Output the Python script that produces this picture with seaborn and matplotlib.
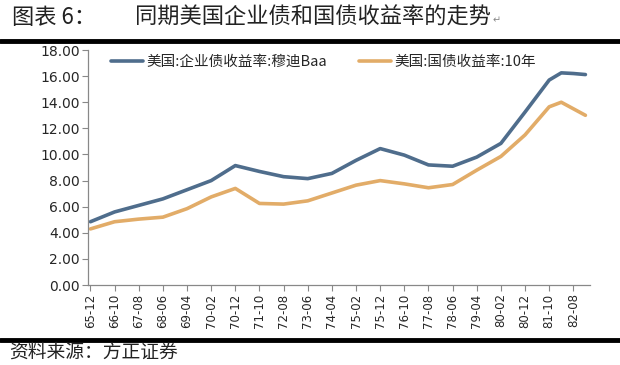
import matplotlib
matplotlib.use("Agg")
import matplotlib.pyplot as plt
import pandas as pd
import seaborn as sns

# Months counted from 1965-12; tick labels every 10 months.
months = [0, 10, 20, 30, 40, 50, 60, 70, 80, 90, 100, 110, 120, 130,
          140, 150, 160, 170, 180, 190, 195, 200, 205]
baa_yield = [4.85, 5.6, 6.1, 6.6, 7.3, 8.0, 9.15, 8.7, 8.3, 8.15, 8.55,
             9.55, 10.45, 9.95, 9.2, 9.1, 9.8, 10.85, 13.25, 15.7, 16.25,
             16.2, 16.12]
treasury_10y = [4.3, 4.85, 5.05, 5.2, 5.85, 6.75, 7.4, 6.25, 6.2, 6.45,
                7.05, 7.65, 8.0, 7.75, 7.45, 7.7, 8.8, 9.85, 11.5, 13.65,
                14.0, 13.5, 13.0]
tick_labels = ["65-12", "66-10", "67-08", "68-06", "69-04", "70-02", "70-12",
               "71-10", "72-08", "73-06", "74-04", "75-02", "75-12", "76-10",
               "77-08", "78-06", "79-04", "80-02", "80-12", "81-10", "82-08"]
series_names = ["美国:企业债收益率:穆迪Baa", "美国:国债收益率:10年"]

df = pd.DataFrame({"month": months,
                   series_names[0]: baa_yield,
                   series_names[1]: treasury_10y})
long_df = df.melt(id_vars="month", var_name="series", value_name="yield")

sns.set_style("white")
plt.rcParams["font.family"] = ["Noto Sans CJK SC", "DejaVu Sans"]

fig = plt.figure(figsize=(6.2, 3.65), dpi=100)
ax = fig.add_axes([0.142, 0.219, 0.81, 0.644])

sns.lineplot(data=long_df, x="month", y="yield", hue="series",
             palette=["#4f6d8c", "#e2ac68"], linewidth=2.6, ax=ax)

ax.set_xlim(-1, 207)
ax.set_ylim(0, 18)
ax.set_yticks(range(0, 19, 2))
ax.set_yticklabels([f"{v:.2f}" for v in range(0, 19, 2)], fontsize=10,
                   family="DejaVu Sans")
ax.set_xticks(range(0, 201, 10))
ax.set_xticklabels(tick_labels, rotation=90, fontsize=8.5,
                   family="DejaVu Sans")
ax.set_xlabel("")
ax.set_ylabel("")
ax.tick_params(axis="both", direction="out", length=4, width=0.8,
               color="#888888", pad=2, bottom=True, left=True)
for side in ["top", "right"]:
    ax.spines[side].set_visible(False)
for side in ["left", "bottom"]:
    ax.spines[side].set_color("#888888")
    ax.spines[side].set_linewidth(0.9)

ax.legend(loc="upper left", bbox_to_anchor=(0.02, 1.035), ncol=2,
          frameon=False, fontsize=10.5, handlelength=2.2, columnspacing=2.2,
          handletextpad=0.2)

# Header, rules and source line
fig.text(0.02, 0.953, "图表 6：", fontsize=16, va="center", color="#222222")
fig.text(0.218, 0.953, "同期美国企业债和国债收益率的走势", fontsize=16,
         va="center", color="#222222")
fig.text(0.795, 0.945, "↵", fontsize=7, color="#888888", va="center")
fig.add_artist(plt.Line2D([0, 1], [0.888, 0.888], color="black",
                          linewidth=3.5))
fig.add_artist(plt.Line2D([0, 1], [0.068, 0.068], color="black",
                          linewidth=3.5))
fig.text(0.015, 0.035, "资料来源：方正证券", fontsize=13.5, va="center",
         style="italic", color="#222222")

fig.savefig("out.png", dpi=100)
